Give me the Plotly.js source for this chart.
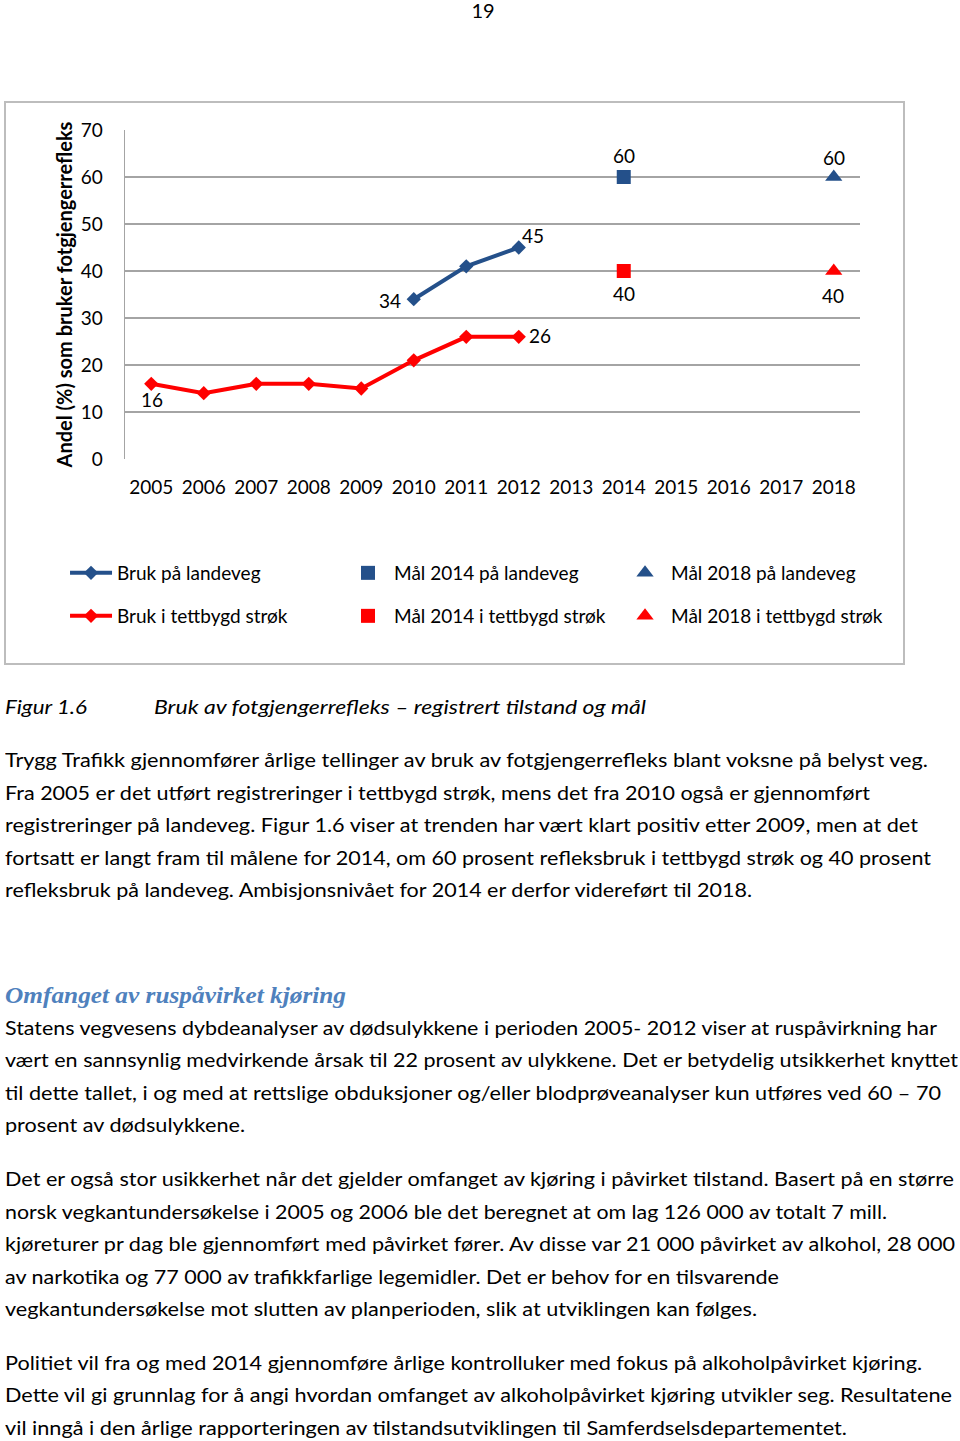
<!DOCTYPE html>
<html>
<head>
<meta charset="utf-8">
<script src="https://cdn.plot.ly/plotly-3.0.1.min.js"></script>
<style>
  html, body { margin: 0; padding: 0; background: #ffffff; }
  body { width: 960px; height: 1441px; position: relative; overflow: hidden; font-family: Lato, "Open Sans", sans-serif; color: #000; }
  #frame { position: absolute; left: 4px; top: 101px; width: 897px; height: 560px; border: 2px solid #bdbdbd; }
  #chart { width: 897px; height: 560px; }
  .ln { position: absolute; left: 5px; white-space: nowrap; line-height: 30px; height: 30px; font-size: 19.5px; transform-origin: 0 50%; }
  .it { font-style: italic; }
  .hd { font-family: "Liberation Serif", "DejaVu Serif", serif; font-weight: bold; font-style: italic; color: #4f81bd; font-size: 23px; }
  #pg { position: absolute; top: 0px; left: 0; width: 960px; text-align: center; font-size: 20px; line-height: 20px; padding-left: 6px; box-sizing: border-box; }
</style>
</head>
<body>
<div id="pg">19</div>
<div id="frame"><div id="chart"></div></div>
<div id="text"></div>
<script>
// ---- data ----
const years = ['2005','2006','2007','2008','2009','2010','2011','2012','2013','2014','2015','2016','2017','2018'];
const tettbygdYears = ['2005','2006','2007','2008','2009','2010','2011','2012'];
const tettbygdValues = [16, 14, 16, 16, 15, 21, 26, 26];
const landevegYears = ['2010','2011','2012'];
const landevegValues = [34, 41, 45];
const maal2014Year = ['2014'];
const maal2014Landeveg = [60];
const maal2014Tettbygd = [40];
const maal2018Year = ['2018'];
const maal2018Landeveg = [60];
const maal2018Tettbygd = [40];
const seriesNames = ['Bruk på landeveg','Mål 2014 på landeveg','Mål 2018 på landeveg','Bruk i tettbygd strøk','Mål 2014 i tettbygd strøk','Mål 2018 i tettbygd strøk'];
const yTitle = 'Andel (%) som bruker fotgjengerrefleks';

const BLUE = '#24508a';
const RED = '#ff0000';
const FONT = 'Lato, "Open Sans", sans-serif';

const traces = [
  { x: landevegYears, y: landevegValues, name: seriesNames[0], type: 'scatter', mode: 'lines+markers',
    line: { color: BLUE, width: 4 }, marker: { symbol: 'diamond', size: 11, color: BLUE }, legend: 'legend' },
  { x: maal2014Year, y: maal2014Landeveg, name: seriesNames[1], type: 'scatter', mode: 'markers',
    marker: { symbol: 'square', size: 14, color: BLUE }, legend: 'legend' },
  { x: maal2018Year, y: maal2018Landeveg, name: seriesNames[2], type: 'scatter', mode: 'markers',
    marker: { symbol: 'triangle-up', size: 15, color: BLUE }, legend: 'legend' },
  { x: tettbygdYears, y: tettbygdValues, name: seriesNames[3], type: 'scatter', mode: 'lines+markers',
    line: { color: RED, width: 4 }, marker: { symbol: 'diamond', size: 11, color: RED }, legend: 'legend2' },
  { x: maal2014Year, y: maal2014Tettbygd, name: seriesNames[4], type: 'scatter', mode: 'markers',
    marker: { symbol: 'square', size: 14, color: RED }, legend: 'legend2' },
  { x: maal2018Year, y: maal2018Tettbygd, name: seriesNames[5], type: 'scatter', mode: 'markers',
    marker: { symbol: 'triangle-up', size: 15, color: RED }, legend: 'legend2' }
];

// data labels (values come from the arrays above; offsets in px)
function lab(year, y, xs, ys) {
  return { x: years.indexOf(year), y: y, xref: 'x', yref: 'y', text: String(y), showarrow: false,
    xshift: xs, yshift: ys, xanchor: 'center', yanchor: 'middle',
    font: { size: 19, family: FONT, color: '#000' } };
}
const nT = tettbygdValues.length - 1, nL = landevegValues.length - 1;
const annotations = [
  lab(tettbygdYears[0], tettbygdValues[0], 1, -16),
  lab(tettbygdYears[nT], tettbygdValues[nT], 21, 1),
  lab(landevegYears[0], landevegValues[0], -24, -1),
  lab(landevegYears[nL], landevegValues[nL], 14, 12),
  lab(maal2014Year[0], maal2014Landeveg[0], 0, 22),
  lab(maal2014Year[0], maal2014Tettbygd[0], 0, -22),
  lab(maal2018Year[0], maal2018Landeveg[0], 0, 20),
  lab(maal2018Year[0], maal2018Tettbygd[0], -1, -24)
];

const legendCommon = { orientation: 'h', xanchor: 'left', yanchor: 'middle', entrywidth: 220, entrywidthmode: 'pixels',
  itemwidth: 42, font: { size: 19, family: FONT, color: '#000' }, bgcolor: 'rgba(0,0,0,0)', traceorder: 'normal' };

const layout = {
  width: 897, height: 560,
  margin: { l: 119, r: 43, t: 27, b: 204, autoexpand: false },
  paper_bgcolor: '#ffffff', plot_bgcolor: '#ffffff',
  font: { family: FONT, size: 19, color: '#000' },
  showlegend: true,
  annotations: annotations,
  xaxis: { type: 'category', categoryorder: 'array', categoryarray: years, range: [-0.5, 13.5],
    tickmode: 'array', tickvals: years, ticktext: years, showgrid: false, zeroline: false,
    showline: false, ticks: '', ticklabelstandoff: 15, tickfont: { size: 19, family: FONT, color: '#000' } },
  yaxis: { range: [0, 70], dtick: 10, tick0: 0, showgrid: true, gridcolor: '#a4a4a4', gridwidth: 1.3,
    zeroline: false, showline: true, linecolor: '#a4a4a4', linewidth: 1.3, ticks: '', ticklabelstandoff: 17,
    tickfont: { size: 19, family: FONT, color: '#000' },
    title: { text: yTitle, font: { size: 20, family: FONT, color: '#000', weight: 'bold' }, standoff: 3 } },
  legend: Object.assign({}, legendCommon, { x: -0.0816, y: -0.3465 }),
  legend2: Object.assign({}, legendCommon, { x: -0.0816, y: -0.4772 })
};

// ---- page text ----
const pageLines = [
  { t: 'Figur 1.6', y: 707, l: 5, r: 87, cls: 'it' },
  { t: 'Bruk av fotgjengerrefleks – registrert tilstand og mål', y: 707, l: 154, r: 646, cls: 'it' },
  { t: 'Trygg Trafikk gjennomfører årlige tellinger av bruk av fotgjengerrefleks blant voksne på belyst veg.', y: 760, r: 928 },
  { t: 'Fra 2005 er det utført registreringer i tettbygd strøk, mens det fra 2010 også er gjennomført', y: 793, r: 870 },
  { t: 'registreringer på landeveg. Figur 1.6 viser at trenden har vært klart positiv etter 2009, men at det', y: 825, r: 918 },
  { t: 'fortsatt er langt fram til målene for 2014, om 60 prosent refleksbruk i tettbygd strøk og 40 prosent', y: 858, r: 931 },
  { t: 'refleksbruk på landeveg. Ambisjonsnivået for 2014 er derfor videreført til 2018.', y: 890, r: 752 },
  { t: 'Omfanget av ruspåvirket kjøring', y: 996, r: 346, cls: 'hd' },
  { t: 'Statens vegvesens dybdeanalyser av dødsulykkene i perioden 2005- 2012 viser at ruspåvirkning har', y: 1028, r: 937 },
  { t: 'vært en sannsynlig medvirkende årsak til 22 prosent av ulykkene. Det er betydelig utsikkerhet knyttet', y: 1060, r: 958 },
  { t: 'til dette tallet, i og med at rettslige obduksjoner og/eller blodprøveanalyser kun utføres ved 60 – 70', y: 1093, r: 941 },
  { t: 'prosent av dødsulykkene.', y: 1125, r: 245 },
  { t: 'Det er også stor usikkerhet når det gjelder omfanget av kjøring i påvirket tilstand. Basert på en større', y: 1179, r: 954 },
  { t: 'norsk vegkantundersøkelse i 2005 og 2006 ble det beregnet at om lag 126 000 av totalt 7 mill.', y: 1212, r: 887 },
  { t: 'kjøreturer pr dag ble gjennomført med påvirket fører. Av disse var 21 000 påvirket av alkohol, 28 000', y: 1244, r: 955 },
  { t: 'av narkotika og 77 000 av trafikkfarlige legemidler. Det er behov for en tilsvarende', y: 1277, r: 779 },
  { t: 'vegkantundersøkelse mot slutten av planperioden, slik at utviklingen kan følges.', y: 1309, r: 757 },
  { t: 'Politiet vil fra og med 2014 gjennomføre årlige kontrolluker med fokus på alkoholpåvirket kjøring.', y: 1363, r: 922 },
  { t: 'Dette vil gi grunnlag for å angi hvordan omfanget av alkoholpåvirket kjøring utvikler seg. Resultatene', y: 1395, r: 952 },
  { t: 'vil inngå i den årlige rapporteringen av tilstandsutviklingen til Samferdselsdepartementet.', y: 1428, r: 847 }
];

const holder = document.getElementById('text');
const els = pageLines.map(p => {
  const d = document.createElement('div');
  d.className = 'ln' + (p.cls ? ' ' + p.cls : '');
  d.textContent = p.t;
  d.style.top = (p.y - 15) + 'px';
  d.style.left = (p.l || 5) + 'px';
  holder.appendChild(d);
  return d;
});
function fit() {
  els.forEach((d, i) => {
    const p = pageLines[i];
    const w = d.getBoundingClientRect().width;
    const target = p.r - (p.l || 5);
    if (w > 0) d.style.transform = 'scaleX(' + (target / w) + ')';
  });
}
(document.fonts && document.fonts.ready ? document.fonts.ready : Promise.resolve()).then(fit);

Plotly.newPlot('chart', traces, layout, { displayModeBar: false, staticPlot: true });
</script>
</body>
</html>
